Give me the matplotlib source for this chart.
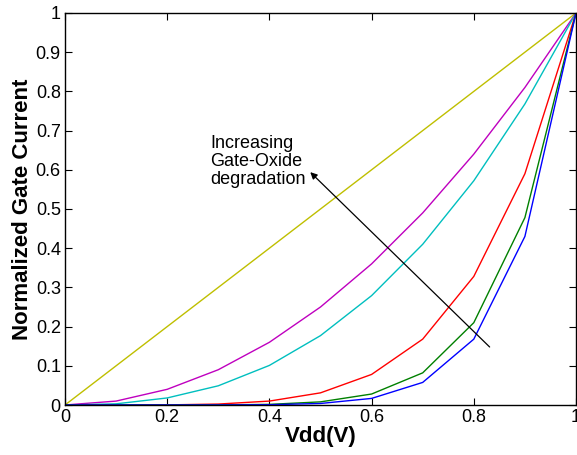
import matplotlib
matplotlib.use("Agg")
import matplotlib.pyplot as plt

vdd = [0, 0.1, 0.2, 0.3, 0.4, 0.5, 0.6, 0.7, 0.8, 0.9, 1.0]
curve_linear = [0, 0.1, 0.2, 0.3, 0.4, 0.5, 0.6, 0.7, 0.8, 0.9, 1.0]
curve_magenta = [0, 0.01, 0.04, 0.09, 0.16, 0.25, 0.36, 0.49, 0.64, 0.81, 1.0]
curve_cyan = [0, 0.003, 0.018, 0.049, 0.101, 0.177, 0.279, 0.41, 0.572, 0.768, 1.0]
curve_red = [0, 0.0, 0.0003, 0.0024, 0.010, 0.031, 0.078, 0.168, 0.328, 0.59, 1.0]
curve_green = [0, 0.0, 0.0, 0.0002, 0.0016, 0.008, 0.028, 0.082, 0.21, 0.478, 1.0]
curve_blue = [0, 0.0, 0.0, 0.0001, 0.0007, 0.0039, 0.0168, 0.0576, 0.168, 0.43, 1.0]

xticks = [0, 0.2, 0.4, 0.6, 0.8, 1]
xticklabels = ["0", "0.2", "0.4", "0.6", "0.8", "1"]
yticks = [0, 0.1, 0.2, 0.3, 0.4, 0.5, 0.6, 0.7, 0.8, 0.9, 1]
yticklabels = ["0", "0.1", "0.2", "0.3", "0.4", "0.5", "0.6", "0.7", "0.8", "0.9", "1"]

plt.rcParams['font.family'] = ['Liberation Sans', 'DejaVu Sans']

fig = plt.figure(figsize=(5.77, 4.55), dpi=100)
ax = fig.add_axes([65/577, 1 - 405/455, 511/577, 392/455])

ax.plot(vdd, curve_linear, color=(0.75, 0.75, 0), lw=1)
ax.plot(vdd, curve_magenta, color=(0.75, 0, 0.75), lw=1)
ax.plot(vdd, curve_cyan, color=(0, 0.75, 0.75), lw=1)
ax.plot(vdd, curve_red, color=(1, 0, 0), lw=1)
ax.plot(vdd, curve_green, color=(0, 0.5, 0), lw=1)
ax.plot(vdd, curve_blue, color=(0, 0, 1), lw=1)

ax.set_xlim(0, 1)
ax.set_ylim(0, 1)
ax.set_xticks(xticks)
ax.set_xticklabels(xticklabels)
ax.set_yticks(yticks)
ax.set_yticklabels(yticklabels)
ax.tick_params(direction='in', top=True, right=True, length=5, width=0.8,
               labelsize=13, pad=3)
for s in ax.spines.values():
    s.set_linewidth(1)

ax.set_xlabel("Vdd(V)", fontsize=16, fontweight='bold', labelpad=0)
ax.set_ylabel("Normalized Gate Current", fontsize=16, fontweight='bold', labelpad=2)

ax.annotate("", xy=(0.48, 0.594), xytext=(0.831, 0.148),
            arrowprops=dict(arrowstyle='-|>', color='black', lw=0.9,
                            mutation_scale=10, shrinkA=0, shrinkB=0))
ax.text(0.284, 0.69, "Increasing\nGate-Oxide\ndegradation", fontsize=13,
        ha='left', va='top', linespacing=1.1)

fig.savefig("out.png", dpi=100)
